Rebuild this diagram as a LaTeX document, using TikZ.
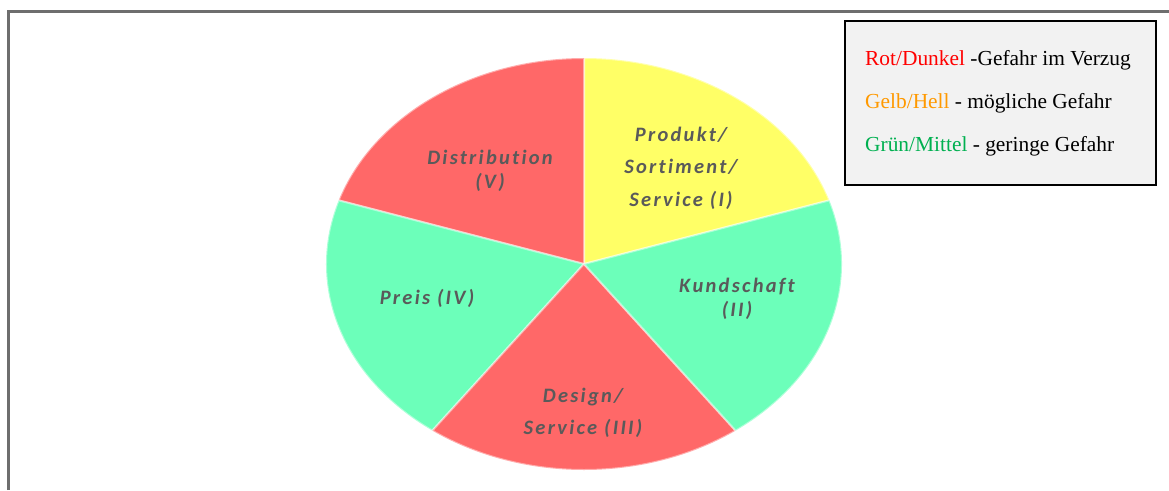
\documentclass[tikz,border=0pt]{standalone}
\usepackage{fontspec}
\setmainfont{Liberation Serif}
\newfontfamily\lblfont[LetterSpace=11,Ligatures=NoCommon]{Carlito}
\definecolor{pred}{HTML}{FF6868}
\definecolor{pyellow}{HTML}{FFFF66}
\definecolor{pgreen}{HTML}{6CFFBA}
\definecolor{lbltext}{HTML}{5A5A5A}
\definecolor{framegray}{HTML}{6E6E6E}
\definecolor{legbg}{HTML}{F2F2F2}
\definecolor{legred}{HTML}{FF0000}
\definecolor{legorange}{HTML}{FF9900}
\definecolor{leggreen}{HTML}{00B050}
\begin{document}
\begin{tikzpicture}[x=1pt,y=1pt,
  sector/.style={draw=white, draw opacity=0.45, line width=2pt, line join=round},
  lbl/.style={font=\lblfont\bfseries\itshape\fontsize{20.5}{23.5}\selectfont, text=lbltext, align=center, inner sep=0pt},
  legtext/.style={font=\fontsize{21.4}{25}\selectfont, anchor=base west, inner sep=0pt}]
\useasboundingbox (0,0) rectangle (1169,-490);
% frame
\draw[framegray, line width=3pt] (8,-490) -- (8,-11) -- (1169,-11);
% pie
\coordinate (c) at (584,-264);
\path[sector, fill=pyellow] (c) -- ++(18:258pt and 206pt) arc[start angle=18, end angle=90, x radius=258pt, y radius=206pt] -- cycle;
\path[sector, fill=pred] (c) -- ++(90:258pt and 206pt) arc[start angle=90, end angle=162, x radius=258pt, y radius=206pt] -- cycle;
\path[sector, fill=pgreen] (c) -- ++(162:258pt and 206pt) arc[start angle=162, end angle=234, x radius=258pt, y radius=206pt] -- cycle;
\path[sector, fill=pred] (c) -- ++(234:258pt and 206pt) arc[start angle=234, end angle=306, x radius=258pt, y radius=206pt] -- cycle;
\path[sector, fill=pgreen] (c) -- ++(306:258pt and 206pt) arc[start angle=306, end angle=378, x radius=258pt, y radius=206pt] -- cycle;
% labels
\node[lbl] (distr) at (490,-171) {Distribution\\(V)};
\node[lbl] (prod) at (681,-168) {Produkt/\\[9pt]Sortiment/\\[9pt]Service (I)};
\node[lbl] (preis) at (427,-298) {Preis (IV)};
\node[lbl] (kund) at (737,-299) {Kundschaft\\(II)};
\node[lbl] (design) at (583,-413) {Design/\\[9pt]Service (III)};
% legend
\node[draw=black, line width=1.5pt, fill=legbg, minimum width=311pt, minimum height=164pt, inner sep=0pt, anchor=north west] (legend) at (844,-20) {};
\node[legtext] (l1) at (865,-65) {\textcolor{legred}{Rot/Dunkel} -Gefahr im Verzug};
\node[legtext] (l2) at (865,-108) {\textcolor{legorange}{Gelb/Hell} - mögliche Gefahr};
\node[legtext] (l3) at (865,-151) {\textcolor{leggreen}{Grün/Mittel} - geringe Gefahr};
\end{tikzpicture}
\end{document}
